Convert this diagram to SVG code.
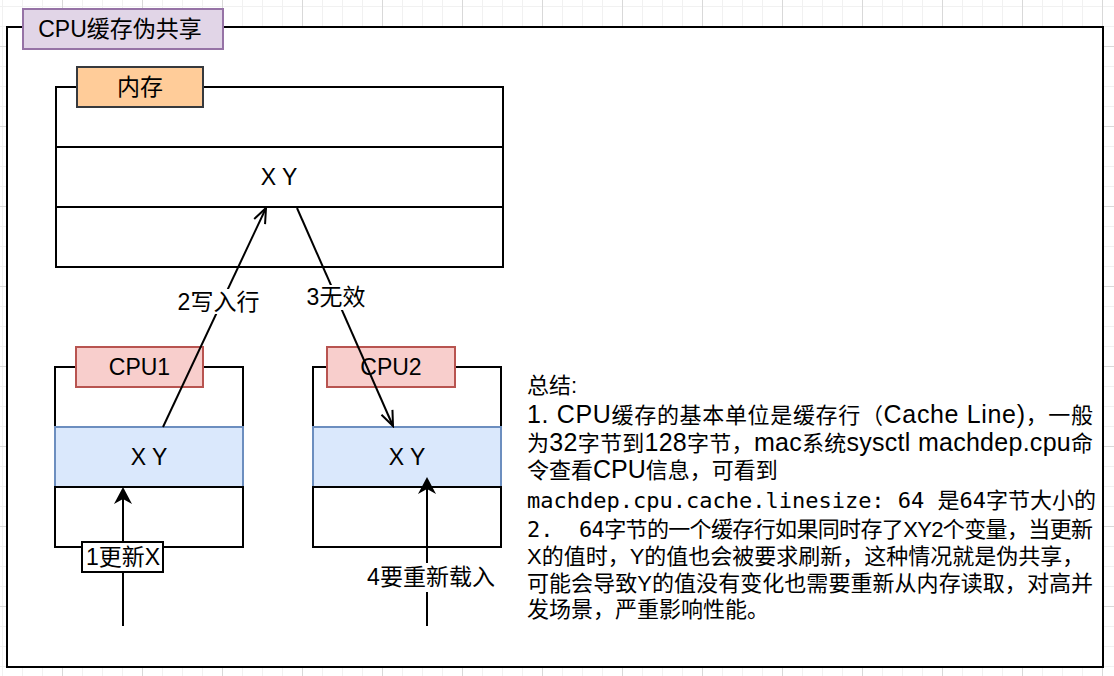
<svg xmlns="http://www.w3.org/2000/svg" width="1114" height="676" viewBox="0 0 1114 676">
<style>
.lbl{font-family:"Liberation Sans","Noto Sans CJK SC",sans-serif;font-size:23px;fill:#000;text-anchor:middle}
.row{fill:#fff;stroke:#000;stroke-width:2}
.blue{fill:#dae8fc;stroke:#6c8ebf;stroke-width:2}
.cpu{fill:#f8cecc;stroke:#b85450;stroke-width:2}
.mem{fill:#ffcc99;stroke:#36393d;stroke-width:2}
.edge{fill:none;stroke:#000;stroke-width:2}
.sum{font-family:"Liberation Sans","Noto Sans CJK SC",sans-serif;font-size:22px;fill:#000}
.L{font-size:25px}
.mono{font-family:"DejaVu Sans Mono","Noto Sans CJK SC",monospace;font-size:22px}
</style>
<defs>
<pattern id="grid" width="80" height="80" patternUnits="userSpaceOnUse" x="-18" y="-34">
<rect x="20" y="0" width="1" height="80" fill="#f1f1f1"/>
<rect x="40" y="0" width="1" height="80" fill="#f1f1f1"/>
<rect x="60" y="0" width="1" height="80" fill="#f1f1f1"/>
<rect x="0" y="20" width="80" height="1" fill="#f1f1f1"/>
<rect x="0" y="40" width="80" height="1" fill="#f1f1f1"/>
<rect x="0" y="60" width="80" height="1" fill="#f1f1f1"/>
<rect x="0" y="0" width="1" height="80" fill="#d9d9d9"/>
<rect x="0" y="0" width="80" height="1" fill="#d9d9d9"/>
</pattern>
<marker id="open" viewBox="-17 -9 19 18" refX="0" refY="0" markerWidth="19" markerHeight="18" markerUnits="userSpaceOnUse" orient="auto">
<path d="M-15,-6 L0,0 L-15,6" fill="none" stroke="#000" stroke-width="2"/>
</marker>
<marker id="classic" viewBox="-18 -10 19 20" refX="-12" refY="0" markerWidth="19" markerHeight="20" markerUnits="userSpaceOnUse" orient="auto">
<path d="M0,0 L-17,-9 L-12,0 L-17,9 Z" fill="#000"/>
</marker>
</defs>
<rect width="1114" height="676" fill="#fff"/>
<rect width="1114" height="676" fill="url(#grid)"/>

<g id="frame">
<rect x="7" y="27" width="1096" height="640" fill="#fff" stroke="#000" stroke-width="2"/>
<rect x="23" y="9" width="200" height="40" fill="#e1d5e7" stroke="#9673a6" stroke-width="2"/>
<text class="lbl" x="120" y="37">CPU缓存伪共享</text>
</g>

<g id="memory">
<rect class="row" x="56" y="87" width="447" height="60"/>
<rect class="row" x="56" y="147" width="447" height="60"/>
<rect class="row" x="56" y="207" width="447" height="60"/>
<text class="lbl" x="279" y="185">X Y</text>
<rect class="mem" x="77" y="67" width="126" height="40"/>
<text class="lbl" x="140" y="95">内存</text>
</g>

<g id="cpu1">
<rect class="row" x="55" y="367" width="188" height="60"/>
<rect class="blue" x="55" y="427" width="188" height="60"/>
<rect class="row" x="55" y="487" width="188" height="60"/>
<text class="lbl" x="149" y="465">X Y</text>
<rect class="cpu" x="76" y="347" width="127" height="40"/>
<text class="lbl" x="139.5" y="375">CPU1</text>
</g>

<g id="cpu2">
<rect class="row" x="313" y="367" width="188" height="60"/>
<rect class="blue" x="313" y="427" width="188" height="60"/>
<rect class="row" x="313" y="487" width="188" height="60"/>
<text class="lbl" x="407" y="465">X Y</text>
<rect class="cpu" x="327" y="347" width="128" height="40"/>
<text class="lbl" x="391" y="375">CPU2</text>
</g>

<g id="connectors">
<line class="edge" x1="163" y1="427" x2="266" y2="208" marker-end="url(#open)"/>
<line class="edge" x1="297" y1="208" x2="393" y2="426" marker-end="url(#open)"/>
<line class="edge" x1="123" y1="626" x2="123" y2="499" marker-end="url(#classic)"/>
<line class="edge" x1="427" y1="626" x2="427" y2="489" marker-end="url(#classic)"/>
<rect x="175" y="289" width="87" height="25" fill="#fff"/>
<text class="lbl" x="218.5" y="310">2写入行</text>
<rect x="305" y="285" width="63" height="25" fill="#fff"/>
<text class="lbl" x="336" y="305">3无效</text>
<rect x="82" y="542" width="81" height="30" fill="#fff" stroke="#000" stroke-width="2"/>
<text class="lbl" x="123" y="565">1更新X</text>
<rect x="364" y="563" width="134" height="29" fill="#fff"/>
<text class="lbl" x="431" y="585">4要重新载入</text>
</g>

<g id="summary">
<text class="sum" x="527" y="393">总结:</text>
<text class="sum" x="527" y="423" textLength="566" lengthAdjust="spacing"><tspan class="L">1. CPU</tspan>缓存的基本单位是缓存行（<tspan class="L">Cache Line)</tspan>，一般</text>
<text class="sum" x="527" y="450.5" textLength="566" lengthAdjust="spacing">为<tspan class="L">32</tspan>字节到<tspan class="L">128</tspan>字节，<tspan class="L">mac</tspan>系统<tspan class="L">sysctl machdep.cpu</tspan>命</text>
<text class="sum" x="527" y="478">令查看<tspan class="L">CPU</tspan>信息，可看到</text>
<text class="mono" x="527" y="508">machdep.cpu.cache.linesize: 64 是64字节大小的</text>
<text class="mono" x="527" y="537">2.</text>
<text class="sum" x="579" y="537" textLength="514" lengthAdjust="spacing"><tspan class="mono">64</tspan>字节的一个缓存行如果同时存了XY2个变量，当更新</text>
<text class="sum" x="527" y="564">X的值时，Y的值也会被要求刷新，这种情况就是伪共享，</text>
<text class="sum" x="527" y="591" textLength="566" lengthAdjust="spacing">可能会导致Y的值没有变化也需要重新从内存读取，对高并</text>
<text class="sum" x="527" y="617">发场景，严重影响性能。</text>
</g>
</svg>
